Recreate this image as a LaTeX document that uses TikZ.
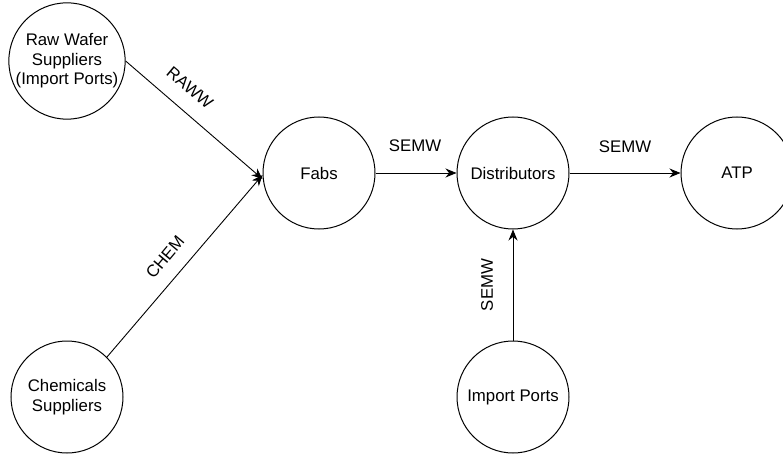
\documentclass[tikz,border=0pt]{standalone}
\usepackage{fontspec}
\setmainfont{Liberation Sans}
\usetikzlibrary{arrows.meta}
\begin{document}
\begin{tikzpicture}[x=1pt,y=-1pt,
  station/.style={circle,draw,line width=1pt,minimum size=112pt,inner sep=0pt,align=center,
    font=\fontsize{16.8}{19.5}\selectfont},
  flow/.style={draw,line width=0.9pt,-{Stealth[length=11pt,width=9pt]}},
  lbl/.style={font=\fontsize{16.8}{19.5}\selectfont,inner sep=0pt}]
\useasboundingbox (0,0) rectangle (783,454);
\begin{scope}
\clip (0,0) rectangle (783,454);
\node[station] (raw) at (67,61) {Raw Wafer\\Suppliers\\(Import Ports)};
\node[station] (chem) at (67,397) {Chemicals\\Suppliers};
\node[station] (fabs) at (319,173) {Fabs};
\node[station] (dist) at (513,173) {Distributors};
\node[station] (atp) at (737,173) {ATP};
\node[station] (imp) at (513,397) {Import Ports};
\end{scope}
\draw[flow] (raw.east) -- ([yshift=-6pt]fabs.west);
\draw[flow] (chem.45) -- ([yshift=-2pt]fabs.west);
\draw[flow] (fabs.east) -- (dist.west);
\draw[flow] (dist.east) -- (atp.west);
\draw[flow] (imp.north) -- (dist.south);
\node[lbl,rotate=-40] (lraw) at (190,88) {RAWW};
\node[lbl,rotate=50] (lchem) at (165,257) {CHEM};
\node[lbl] (l1) at (415,146) {SEMW};
\node[lbl] (l2) at (625,147) {SEMW};
\node[lbl,rotate=90] (l3) at (487,285) {SEMW};
\end{tikzpicture}
\end{document}
